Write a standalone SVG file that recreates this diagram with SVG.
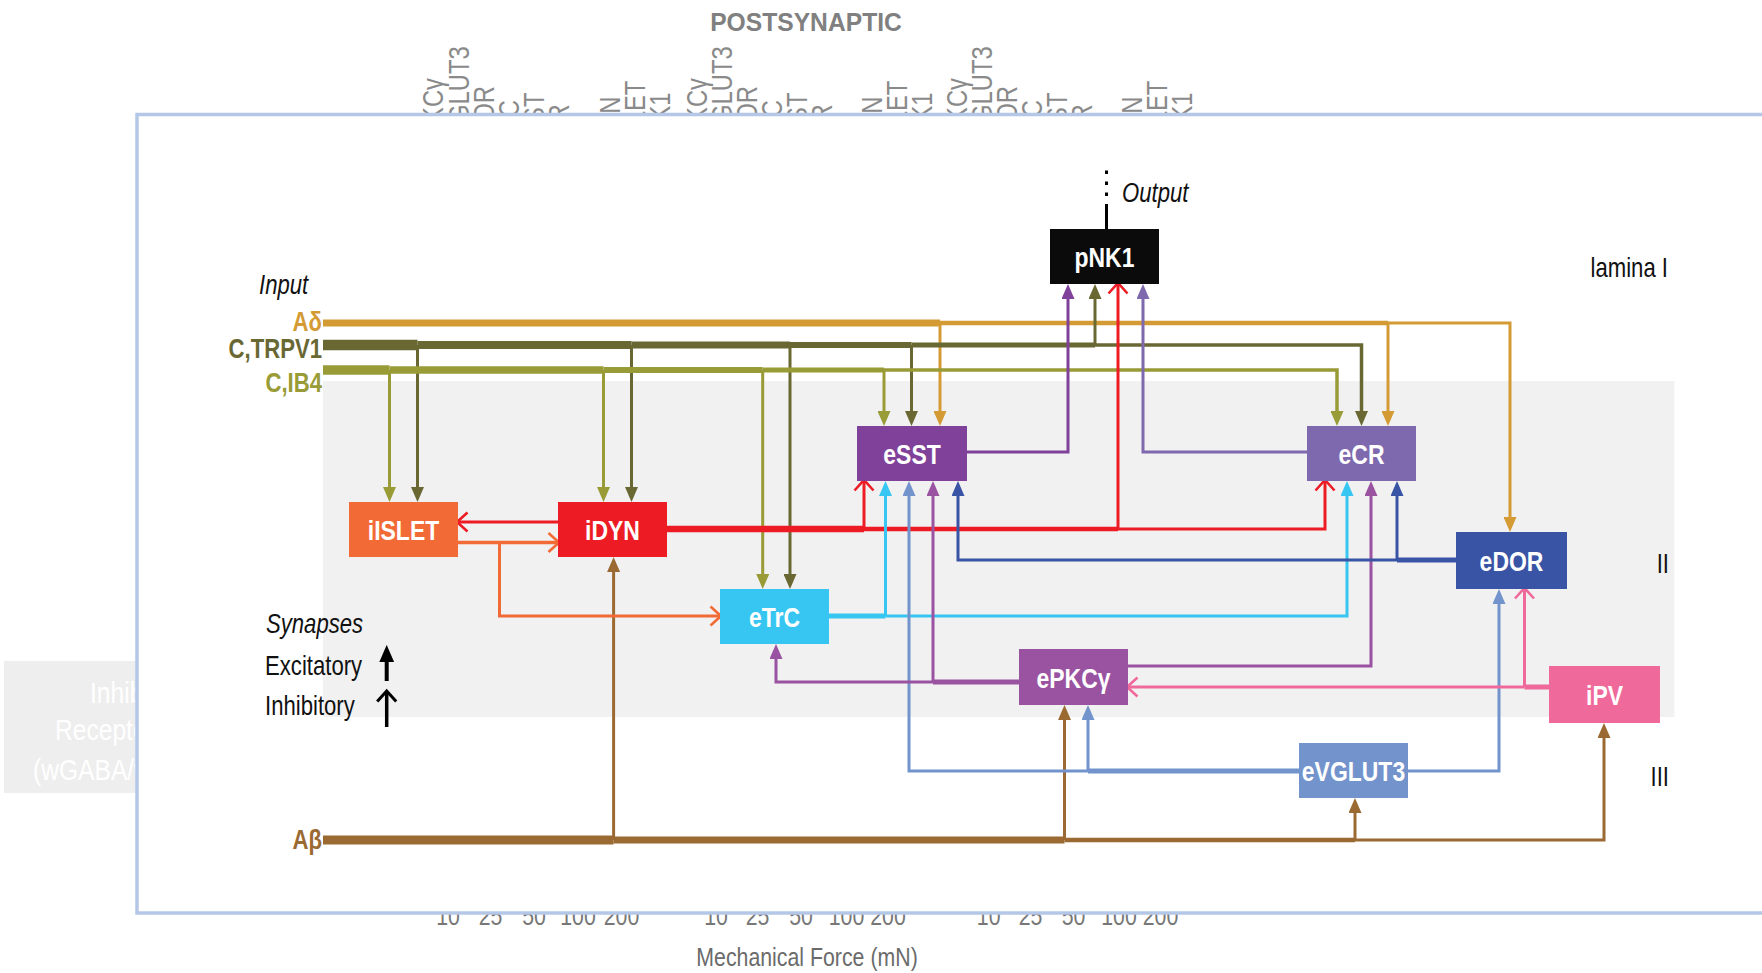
<svg xmlns="http://www.w3.org/2000/svg" width="1762" height="973" viewBox="0 0 1762 973">
<style>
  /* narrow face emulated by a horizontal 0.82 scale on each label */
  text { font-family: 'Liberation Sans', Arial, sans-serif; }
  .axis { fill: #8a8a8a; font-size: 29px; }
  .tick { fill: #777777; font-size: 26px; text-anchor: middle; }
  .title { fill: #808080; font-size: 26.5px; font-weight: bold; text-anchor: middle; }
  .xlabel { fill: #6b6b6b; font-size: 26px; text-anchor: middle; }
  .ghost { fill: #ffffff; font-size: 30px; }
  .lbl { fill: #111111; font-size: 27px; }
  .ital { font-style: italic; }
  .in { font-size: 27px; font-weight: bold; text-anchor: end; }
  .node text { fill: #ffffff; font-size: 28px; font-weight: bold; text-anchor: middle; }
  .wire { fill: none; stroke-linecap: butt; stroke-linejoin: miter; }
</style>
<defs>
  <!-- filled heads: excitatory synapse; tip sits 8px past the path end -->
  <marker id="f-gold" viewBox="0 0 15 13" refX="7" refY="6.5" markerWidth="15" markerHeight="13" markerUnits="userSpaceOnUse" orient="auto"><path d="M0,0 L15,6.5 L0,13 z" fill="#d49b35"/></marker>
  <marker id="f-dolive" viewBox="0 0 15 13" refX="7" refY="6.5" markerWidth="15" markerHeight="13" markerUnits="userSpaceOnUse" orient="auto"><path d="M0,0 L15,6.5 L0,13 z" fill="#696833"/></marker>
  <marker id="f-olive" viewBox="0 0 15 13" refX="7" refY="6.5" markerWidth="15" markerHeight="13" markerUnits="userSpaceOnUse" orient="auto"><path d="M0,0 L15,6.5 L0,13 z" fill="#999b37"/></marker>
  <marker id="f-brown" viewBox="0 0 15 13" refX="7" refY="6.5" markerWidth="15" markerHeight="13" markerUnits="userSpaceOnUse" orient="auto"><path d="M0,0 L15,6.5 L0,13 z" fill="#9b6a33"/></marker>
  <marker id="f-cyan" viewBox="0 0 15 13" refX="7" refY="6.5" markerWidth="15" markerHeight="13" markerUnits="userSpaceOnUse" orient="auto"><path d="M0,0 L15,6.5 L0,13 z" fill="#37c6f1"/></marker>
  <marker id="f-lblue" viewBox="0 0 15 13" refX="7" refY="6.5" markerWidth="15" markerHeight="13" markerUnits="userSpaceOnUse" orient="auto"><path d="M0,0 L15,6.5 L0,13 z" fill="#7393cc"/></marker>
  <marker id="f-pkc" viewBox="0 0 15 13" refX="7" refY="6.5" markerWidth="15" markerHeight="13" markerUnits="userSpaceOnUse" orient="auto"><path d="M0,0 L15,6.5 L0,13 z" fill="#9a53a1"/></marker>
  <marker id="f-sst" viewBox="0 0 15 13" refX="7" refY="6.5" markerWidth="15" markerHeight="13" markerUnits="userSpaceOnUse" orient="auto"><path d="M0,0 L15,6.5 L0,13 z" fill="#80419a"/></marker>
  <marker id="f-cr" viewBox="0 0 15 13" refX="7" refY="6.5" markerWidth="15" markerHeight="13" markerUnits="userSpaceOnUse" orient="auto"><path d="M0,0 L15,6.5 L0,13 z" fill="#7f69ae"/></marker>
  <marker id="f-dblue" viewBox="0 0 15 13" refX="7" refY="6.5" markerWidth="15" markerHeight="13" markerUnits="userSpaceOnUse" orient="auto"><path d="M0,0 L15,6.5 L0,13 z" fill="#3954a5"/></marker>
  <marker id="f-black" viewBox="0 0 15 13" refX="7" refY="6.5" markerWidth="17" markerHeight="15" markerUnits="userSpaceOnUse" orient="auto"><path d="M0,0 L15,6.5 L0,13 z" fill="#000000"/></marker>
  <!-- open chevrons: inhibitory synapse; tip at the path end -->
  <marker id="o-red" viewBox="0 0 14 22" refX="11" refY="11" markerWidth="14" markerHeight="22" markerUnits="userSpaceOnUse" orient="auto" overflow="visible"><path d="M1.5,1.5 L12,11 L1.5,20.5" fill="none" stroke="#ed1c24" stroke-width="2.6"/></marker>
  <marker id="o-orange" viewBox="0 0 14 22" refX="11" refY="11" markerWidth="14" markerHeight="22" markerUnits="userSpaceOnUse" orient="auto" overflow="visible"><path d="M1.5,1.5 L12,11 L1.5,20.5" fill="none" stroke="#f26b36" stroke-width="2.6"/></marker>
  <marker id="o-pink" viewBox="0 0 14 22" refX="11" refY="11" markerWidth="14" markerHeight="22" markerUnits="userSpaceOnUse" orient="auto" overflow="visible"><path d="M1.5,1.5 L12,11 L1.5,20.5" fill="none" stroke="#ef6a9b" stroke-width="2.6"/></marker>
  <marker id="o-black" viewBox="0 0 14 22" refX="11" refY="11" markerWidth="14" markerHeight="22" markerUnits="userSpaceOnUse" orient="auto" overflow="visible"><path d="M1.5,1.5 L12,11 L1.5,20.5" fill="none" stroke="#000000" stroke-width="3"/></marker>
</defs>

<rect width="1762" height="973" fill="#ffffff"/>

<!-- background chart labels, partly covered by the circuit panel -->
<g id="chart-backdrop">
  <text class="title" transform="translate(806,31) scale(.93,1)">POSTSYNAPTIC</text>
  <g class="axis">
    <text transform="translate(443.4,152) rotate(-90) scale(.82,1)">ePKCγ</text>
    <text transform="translate(468.6,152) rotate(-90) scale(.82,1)">eVGLUT3</text>
    <text transform="translate(493.8,152) rotate(-90) scale(.82,1)">eDOR</text>
    <text transform="translate(519,152) rotate(-90) scale(.82,1)">eTrC</text>
    <text transform="translate(544.2,152) rotate(-90) scale(.82,1)">eSST</text>
    <text transform="translate(569.4,152) rotate(-90) scale(.82,1)">eCR</text>
    <text transform="translate(594.6,152) rotate(-90) scale(.82,1)">iPV</text>
    <text transform="translate(619.8,152) rotate(-90) scale(.82,1)">iDYN</text>
    <text transform="translate(645,152) rotate(-90) scale(.82,1)">iISLET</text>
    <text transform="translate(670.2,152) rotate(-90) scale(.82,1)">pNK1</text>

    <text transform="translate(707.4,152) rotate(-90) scale(.82,1)">ePKCγ</text>
    <text transform="translate(732.3,152) rotate(-90) scale(.82,1)">eVGLUT3</text>
    <text transform="translate(757.2,152) rotate(-90) scale(.82,1)">eDOR</text>
    <text transform="translate(782.1,152) rotate(-90) scale(.82,1)">eTrC</text>
    <text transform="translate(807,152) rotate(-90) scale(.82,1)">eSST</text>
    <text transform="translate(831.9,152) rotate(-90) scale(.82,1)">eCR</text>
    <text transform="translate(856.8,152) rotate(-90) scale(.82,1)">iPV</text>
    <text transform="translate(881.7,152) rotate(-90) scale(.82,1)">iDYN</text>
    <text transform="translate(906.6,152) rotate(-90) scale(.82,1)">iISLET</text>
    <text transform="translate(931.5,152) rotate(-90) scale(.82,1)">pNK1</text>

    <text transform="translate(967.4,152) rotate(-90) scale(.82,1)">ePKCγ</text>
    <text transform="translate(992.4,152) rotate(-90) scale(.82,1)">eVGLUT3</text>
    <text transform="translate(1017.4,152) rotate(-90) scale(.82,1)">eDOR</text>
    <text transform="translate(1042.4,152) rotate(-90) scale(.82,1)">eTrC</text>
    <text transform="translate(1067.4,152) rotate(-90) scale(.82,1)">eSST</text>
    <text transform="translate(1092.4,152) rotate(-90) scale(.82,1)">eCR</text>
    <text transform="translate(1117.4,152) rotate(-90) scale(.82,1)">iPV</text>
    <text transform="translate(1142.4,152) rotate(-90) scale(.82,1)">iDYN</text>
    <text transform="translate(1167.4,152) rotate(-90) scale(.82,1)">iISLET</text>
    <text transform="translate(1192.4,152) rotate(-90) scale(.82,1)">pNK1</text>
  </g>
  <g class="tick">
    <text transform="translate(448,925) scale(.82,1)">10</text><text transform="translate(490.5,925) scale(.82,1)">25</text><text transform="translate(534,925) scale(.82,1)">50</text><text transform="translate(578,925) scale(.82,1)">100</text><text transform="translate(621.5,925) scale(.82,1)">200</text>
    <text transform="translate(716,925) scale(.82,1)">10</text><text transform="translate(757.5,925) scale(.82,1)">25</text><text transform="translate(801,925) scale(.82,1)">50</text><text transform="translate(846.5,925) scale(.82,1)">100</text><text transform="translate(888,925) scale(.82,1)">200</text>
    <text transform="translate(988.7,925) scale(.82,1)">10</text><text transform="translate(1030.5,925) scale(.82,1)">25</text><text transform="translate(1073.5,925) scale(.82,1)">50</text><text transform="translate(1119,925) scale(.82,1)">100</text><text transform="translate(1160.5,925) scale(.82,1)">200</text>
  </g>
  <text class="xlabel" transform="translate(807,966) scale(.82,1)">Mechanical Force (mN)</text>
  <rect x="4" y="661" width="160" height="132" fill="#eeeeee"/>
  <text class="ghost" transform="translate(90,703) scale(.82,1)">Inhibitory</text>
  <text class="ghost" transform="translate(55,740) scale(.82,1)">Receptors</text>
  <text class="ghost" transform="translate(33,780) scale(.82,1)">(wGABA/wGly)</text>
</g>

<!-- circuit panel -->
<rect id="panel" x="137" y="114.5" width="1700" height="798.5" fill="#ffffff" stroke="#b4c7e7" stroke-width="3.5"/>
<rect id="lamina-II" x="323" y="381" width="1351.5" height="336" fill="#f1f1f1"/>

<g id="labels">
  <text class="lbl" text-anchor="end" transform="translate(1668,277) scale(.82,1)">lamina I</text>
  <text class="lbl" text-anchor="end" transform="translate(1669,573) scale(.82,1)">II</text>
  <text class="lbl" text-anchor="end" transform="translate(1669,786) scale(.82,1)">III</text>
  <text class="lbl ital" transform="translate(259,294) scale(.82,1)">Input</text>
  <text class="lbl ital" transform="translate(1122,202) scale(.82,1)">Output</text>
  <text class="in" fill="#d49b35" transform="translate(322,331) scale(.82,1)">Aδ</text>
  <text class="in" fill="#696833" transform="translate(322,358) scale(.82,1)">C,TRPV1</text>
  <text class="in" fill="#999b37" transform="translate(322,392) scale(.82,1)">C,IB4</text>
  <text class="in" fill="#9b6a33" transform="translate(322,849) scale(.82,1)">Aβ</text>
</g>

<g id="legend">
  <text class="lbl ital" transform="translate(266,633) scale(.82,1)">Synapses</text>
  <text class="lbl" transform="translate(265,675) scale(.82,1)">Excitatory</text>
  <text class="lbl" transform="translate(265,715) scale(.82,1)">Inhibitory</text>
  <path class="wire" d="M386.7,681 V654" stroke="#000000" stroke-width="4" marker-end="url(#f-black)"/>
  <path class="wire" d="M386.7,727 V692" stroke="#000000" stroke-width="3.5" marker-end="url(#o-black)"/>
</g>

<g id="connectors">
  <!-- Adelta afferent -->
  <g stroke="#d49b35" class="wire">
    <path d="M323,323 H940" stroke-width="7"/>
    <path d="M940,323 H1388" stroke-width="4.5"/>
    <path d="M1388,323 H1510 V524" stroke-width="3" marker-end="url(#f-gold)"/>
    <path d="M940,323 V418" stroke-width="3" marker-end="url(#f-gold)"/>
    <path d="M1388,323 V418" stroke-width="3" marker-end="url(#f-gold)"/>
  </g>
  <!-- C,TRPV1 afferent -->
  <g stroke="#696833" class="wire">
    <path d="M323,345 H417.5" stroke-width="10.5"/>
    <path d="M417.5,345 H631.5" stroke-width="8"/>
    <path d="M631.5,345 H790" stroke-width="7"/>
    <path d="M790,345 H911.5" stroke-width="6"/>
    <path d="M911.5,345 H1095" stroke-width="5"/>
    <path d="M1095,345 H1361.5 V418" stroke-width="3.5" marker-end="url(#f-dolive)"/>
    <path d="M417.5,345 V494" stroke-width="3" marker-end="url(#f-dolive)"/>
    <path d="M631.5,345 V494" stroke-width="3" marker-end="url(#f-dolive)"/>
    <path d="M790,345 V581" stroke-width="3" marker-end="url(#f-dolive)"/>
    <path d="M911.5,345 V418" stroke-width="3" marker-end="url(#f-dolive)"/>
    <path d="M1095,345 V292" stroke-width="3" marker-end="url(#f-dolive)"/>
  </g>
  <!-- C,IB4 afferent -->
  <g stroke="#999b37" class="wire">
    <path d="M323,370 H389.5" stroke-width="9.5"/>
    <path d="M389.5,370 H603.5" stroke-width="7.5"/>
    <path d="M603.5,370 H762.7" stroke-width="6"/>
    <path d="M762.7,370 H884" stroke-width="5"/>
    <path d="M884,370 H1337 V418" stroke-width="3.5" marker-end="url(#f-olive)"/>
    <path d="M389.5,370 V494" stroke-width="3" marker-end="url(#f-olive)"/>
    <path d="M603.5,370 V494" stroke-width="3" marker-end="url(#f-olive)"/>
    <path d="M762.7,370 V581" stroke-width="3" marker-end="url(#f-olive)"/>
    <path d="M884,370 V418" stroke-width="3" marker-end="url(#f-olive)"/>
  </g>
  <!-- Abeta afferent -->
  <g stroke="#9b6a33" class="wire">
    <path d="M323,840 H613.6" stroke-width="9"/>
    <path d="M613.6,840 H1064.5" stroke-width="7"/>
    <path d="M1064.5,840 H1355" stroke-width="4.5"/>
    <path d="M1355,840 H1604 V731" stroke-width="3" marker-end="url(#f-brown)"/>
    <path d="M613.6,840 V565" stroke-width="3" marker-end="url(#f-brown)"/>
    <path d="M1064.5,840 V713" stroke-width="3" marker-end="url(#f-brown)"/>
    <path d="M1355,840 V806" stroke-width="3" marker-end="url(#f-brown)"/>
  </g>
  <!-- iDYN outputs -->
  <g stroke="#ed1c24" class="wire">
    <path d="M667,529 H864" stroke-width="6.5"/>
    <path d="M864,529 H1118" stroke-width="4.5"/>
    <path d="M1118,529 H1325 V481" stroke-width="3" marker-end="url(#o-red)"/>
    <path d="M864,529 V481" stroke-width="3" marker-end="url(#o-red)"/>
    <path d="M1118,529 V284" stroke-width="3" marker-end="url(#o-red)"/>
    <path d="M558,522 H458" stroke-width="3" marker-end="url(#o-red)"/>
  </g>
  <!-- iISLET outputs -->
  <g stroke="#f26b36" class="wire">
    <path d="M458,542.5 H558" stroke-width="3.5" marker-end="url(#o-orange)"/>
    <path d="M499.5,542.5 V616 H720" stroke-width="3" marker-end="url(#o-orange)"/>
  </g>
  <!-- eTrC outputs -->
  <g stroke="#37c6f1" class="wire">
    <path d="M829,616 H885.5" stroke-width="5"/>
    <path d="M885.5,616 H1347 V489" stroke-width="3" marker-end="url(#f-cyan)"/>
    <path d="M885.5,616 V489" stroke-width="3" marker-end="url(#f-cyan)"/>
  </g>
  <!-- eVGLUT3 outputs -->
  <g stroke="#7393cc" class="wire">
    <path d="M1299,771 H1088" stroke-width="5"/>
    <path d="M1088,771 H909 V489" stroke-width="3" marker-end="url(#f-lblue)"/>
    <path d="M1088,771 V713" stroke-width="3" marker-end="url(#f-lblue)"/>
    <path d="M1408,771 H1499 V597" stroke-width="3" marker-end="url(#f-lblue)"/>
  </g>
  <!-- ePKCgamma outputs -->
  <g stroke="#9a53a1" class="wire">
    <path d="M1019,682 H933" stroke-width="5"/>
    <path d="M933,682 H776 V652" stroke-width="3" marker-end="url(#f-pkc)"/>
    <path d="M933,682 V489" stroke-width="3" marker-end="url(#f-pkc)"/>
    <path d="M1128,666 H1371 V489" stroke-width="3" marker-end="url(#f-pkc)"/>
  </g>
  <!-- eDOR outputs -->
  <g stroke="#3954a5" class="wire">
    <path d="M1456,560 H1397" stroke-width="5"/>
    <path d="M1397,560 H958 V489" stroke-width="3" marker-end="url(#f-dblue)"/>
    <path d="M1397,560 V489" stroke-width="3" marker-end="url(#f-dblue)"/>
  </g>
  <!-- iPV outputs -->
  <g stroke="#ef6a9b" class="wire">
    <path d="M1549,687 H1524.5" stroke-width="5"/>
    <path d="M1524.5,687 H1128" stroke-width="3" marker-end="url(#o-pink)"/>
    <path d="M1524.5,687 V589" stroke-width="3" marker-end="url(#o-pink)"/>
  </g>
  <!-- projections onto pNK1 -->
  <path class="wire" d="M967,452 H1068 V292" stroke="#80419a" stroke-width="3" marker-end="url(#f-sst)"/>
  <path class="wire" d="M1307,452 H1143 V292" stroke="#7f69ae" stroke-width="3" marker-end="url(#f-cr)"/>
  <!-- output tract -->
  <path class="wire" d="M1106.5,229 V204" stroke="#000000" stroke-width="3"/>
  <rect x="1105" y="170.5" width="3" height="3.5" fill="#000000"/>
  <rect x="1105" y="181.5" width="3" height="3.5" fill="#000000"/>
  <rect x="1105" y="192.5" width="3" height="3.5" fill="#000000"/>
</g>

<g id="pNK1" class="node"><rect x="1050" y="229" width="109" height="55" fill="#0b0b0b"/><text transform="translate(1104.5,267) scale(.82,1)">pNK1</text></g>
<g id="eSST" class="node"><rect x="857" y="426" width="110" height="55" fill="#80419a"/><text transform="translate(912,464) scale(.82,1)">eSST</text></g>
<g id="eCR" class="node"><rect x="1307" y="426" width="109" height="55" fill="#7f69ae"/><text transform="translate(1361.5,464) scale(.82,1)">eCR</text></g>
<g id="iISLET" class="node"><rect x="349" y="502" width="109" height="55" fill="#f26b36"/><text transform="translate(403.5,540) scale(.82,1)">iISLET</text></g>
<g id="iDYN" class="node"><rect x="558" y="502" width="109" height="55" fill="#ed1c24"/><text transform="translate(612.5,540) scale(.82,1)">iDYN</text></g>
<g id="eTrC" class="node"><rect x="720" y="589" width="109" height="55" fill="#37c6f1"/><text transform="translate(774.5,627) scale(.82,1)">eTrC</text></g>
<g id="eDOR" class="node"><rect x="1456" y="532" width="111" height="57" fill="#3954a5"/><text transform="translate(1511.5,571) scale(.82,1)">eDOR</text></g>
<g id="ePKCg" class="node"><rect x="1019" y="649" width="109" height="56" fill="#9a53a1"/><text transform="translate(1073.5,687.5) scale(.82,1)">ePKCγ</text></g>
<g id="iPV" class="node"><rect x="1549" y="666" width="111" height="57" fill="#ef6a9b"/><text transform="translate(1604.5,705) scale(.82,1)">iPV</text></g>
<g id="eVGLUT3" class="node"><rect x="1299" y="743" width="109" height="55" fill="#7393cc"/><text transform="translate(1353.5,781) scale(.82,1)">eVGLUT3</text></g>
</svg>
